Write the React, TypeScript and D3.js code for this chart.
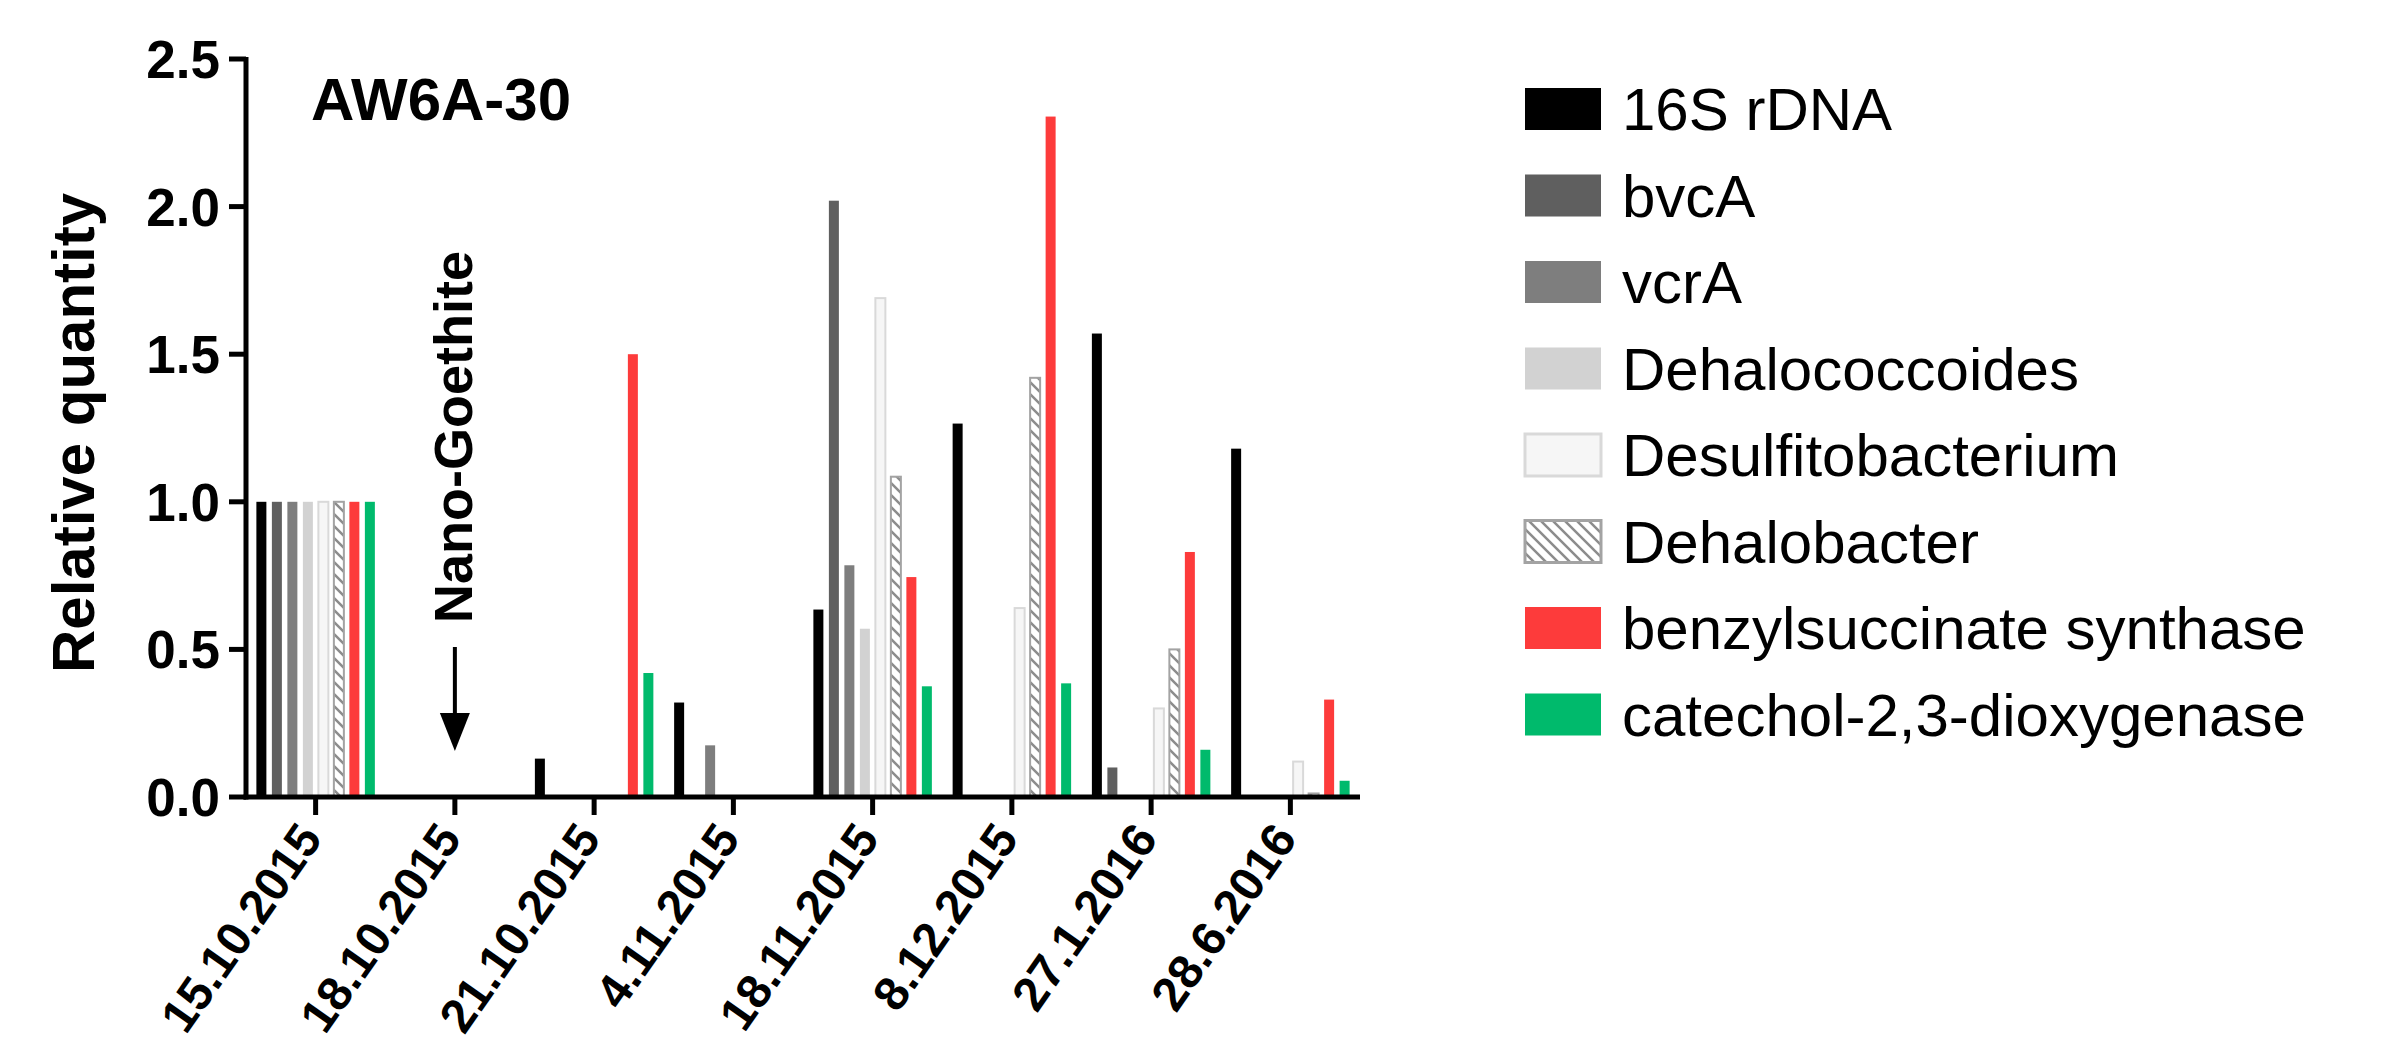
import React from "react";
import * as d3 from "d3";

// sampling dates (x categories)
const dates = [
  "15.10.2015", "18.10.2015", "21.10.2015", "4.11.2015",
  "18.11.2015", "8.12.2015", "27.1.2016", "28.6.2016",
];

const genes = [
  "16S rDNA", "bvcA", "vcrA", "Dehalococcoides", "Desulfitobacterium",
  "Dehalobacter", "benzylsuccinate synthase", "catechol-2,3-dioxygenase",
];

// relative quantities, one value per date
const rDNA16S = [1.0, 0, 0.13, 0.32, 0.635, 1.265, 1.57, 1.18];
const bvcA = [1.0, 0, 0, 0, 2.02, 0, 0.1, 0];
const vcrA = [1.0, 0, 0, 0.175, 0.785, 0, 0, 0];
const dehalococcoides = [1.0, 0, 0, 0, 0.57, 0, 0, 0];
const desulfitobacterium = [1.0, 0, 0, 0, 1.69, 0.64, 0.3, 0.12];
const dehalobacter = [1.0, 0, 0, 0, 1.085, 1.42, 0.5, 0.012];
const benzylsuccinate = [1.0, 0, 1.5, 0, 0.745, 2.305, 0.83, 0.33];
const catechol = [1.0, 0, 0.42, 0, 0.375, 0.385, 0.16, 0.055];

const yTicks = [0, 0.5, 1.0, 1.5, 2.0, 2.5];

const seriesByGene: Record<string, number[]> = {
  "16S rDNA": rDNA16S,
  bvcA: bvcA,
  vcrA: vcrA,
  Dehalococcoides: dehalococcoides,
  Desulfitobacterium: desulfitobacterium,
  Dehalobacter: dehalobacter,
  "benzylsuccinate synthase": benzylsuccinate,
  "catechol-2,3-dioxygenase": catechol,
};

const styleByGene: Record<string, { fill: string; stroke?: string }> = {
  "16S rDNA": { fill: "#000000" },
  bvcA: { fill: "#5f5f5f" },
  vcrA: { fill: "#7e7e7e" },
  Dehalococcoides: { fill: "#d2d2d2" },
  Desulfitobacterium: { fill: "#f6f6f6", stroke: "#d9d9d9" },
  Dehalobacter: { fill: "url(#hatch)", stroke: "#a3a3a3" },
  "benzylsuccinate synthase": { fill: "#fd3b3b" },
  "catechol-2,3-dioxygenase": { fill: "#00ba6c" },
};

const W = 2391;
const H = 1056;
const FONT = "'Liberation Sans', Arial, Helvetica, sans-serif";

const plot = { left: 246, right: 1360, top: 59, bottom: 797 };

export default function App() {
  const x0 = d3.scaleBand().domain(dates).range([plot.left, plot.right]);
  const x1 = d3
    .scaleBand()
    .domain(genes)
    .range([0, x0.bandwidth()])
    .paddingInner(0.355)
    .paddingOuter(0.67);
  const y = d3.scaleLinear().domain([0, 2.5]).range([plot.bottom, plot.top]);

  const bars = dates.flatMap((d, i) =>
    genes
      .filter((g) => seriesByGene[g][i] > 0)
      .map((g) => ({ date: d, gene: g, value: seriesByGene[g][i] }))
  );

  const goethiteX = (x0("18.10.2015") ?? 0) + x0.bandwidth() / 2;

  return (
    <svg
      width={W}
      height={H}
      style={{ position: "absolute", left: 0, top: 0, background: "#fff" }}
      fontFamily={FONT}
    >
      <defs>
        <pattern id="hatch" patternUnits="userSpaceOnUse" width="12" height="12">
          <rect width="12" height="12" fill="#ffffff" />
          <path
            d="M-3,-3 L15,15 M-3,9 L3,15 M9,-3 L15,3"
            stroke="#8c8c8c"
            strokeWidth="2.5"
          />
        </pattern>
      </defs>

      {/* bars */}
      {bars.map((b) => {
        const st = styleByGene[b.gene];
        return (
          <rect
            key={b.date + b.gene}
            x={(x0(b.date) ?? 0) + (x1(b.gene) ?? 0)}
            y={y(b.value)}
            width={x1.bandwidth()}
            height={y(0) - y(b.value)}
            fill={st.fill}
            stroke={st.stroke ?? "none"}
            strokeWidth={st.stroke ? 2 : 0}
          />
        );
      })}

      {/* y axis */}
      <line x1={plot.left} x2={plot.left} y1={y(0) + 2.5} y2={y(2.5) - 2} stroke="#000" strokeWidth={5} />
      {yTicks.map((t) => (
        <g key={t}>
          <line x1={plot.left - 17} x2={plot.left} y1={y(t)} y2={y(t)} stroke="#000" strokeWidth={5} />
          <text
            x={plot.left - 26}
            y={y(t) + 19}
            textAnchor="end"
            fontSize={53}
            fontWeight="bold"
          >
            {t.toFixed(1)}
          </text>
        </g>
      ))}
      <text
        transform={`translate(94,${(plot.top + plot.bottom) / 2 + 5}) rotate(-90)`}
        textAnchor="middle"
        fontSize={60}
        fontWeight="bold"
      >
        Relative quantity
      </text>

      {/* x axis */}
      <line x1={plot.left - 2.5} x2={plot.right} y1={y(0)} y2={y(0)} stroke="#000" strokeWidth={5} />
      {dates.map((d) => {
        const cx = (x0(d) ?? 0) + x0.bandwidth() / 2;
        return (
          <g key={d}>
            <line x1={cx} x2={cx} y1={y(0)} y2={y(0) + 18} stroke="#000" strokeWidth={5} />
            <text
              transform={`translate(${cx + 8},${y(0) + 42}) rotate(-55)`}
              textAnchor="end"
              fontSize={48}
              fontWeight="bold"
            >
              {d}
            </text>
          </g>
        );
      })}

      {/* panel label */}
      <text x={311} y={120} fontSize={60} fontWeight="bold">
        AW6A-30
      </text>

      {/* Nano-Goethite annotation */}
      <text
        transform={`translate(${goethiteX + 17},437) rotate(-90)`}
        textAnchor="middle"
        fontSize={54}
        fontWeight="bold"
      >
        Nano-Goethite
      </text>
      <line x1={goethiteX} x2={goethiteX} y1={647} y2={718} stroke="#000" strokeWidth={4} />
      <path
        d={`M${goethiteX - 15},${713} L${goethiteX + 15},${713} L${goethiteX},${751} Z`}
        fill="#000"
      />

      {/* legend */}
      {genes.map((g, i) => {
        const yc = 109 + 86.5 * i;
        const st = styleByGene[g];
        return (
          <g key={g}>
            <rect
              x={1525}
              y={yc - 21}
              width={76}
              height={42}
              fill={st.fill}
              stroke={st.stroke ?? "none"}
              strokeWidth={st.stroke ? 3 : 0}
            />
            <text x={1622} y={yc + 21} fontSize={60}>
              {g}
            </text>
          </g>
        );
      })}
    </svg>
  );
}
